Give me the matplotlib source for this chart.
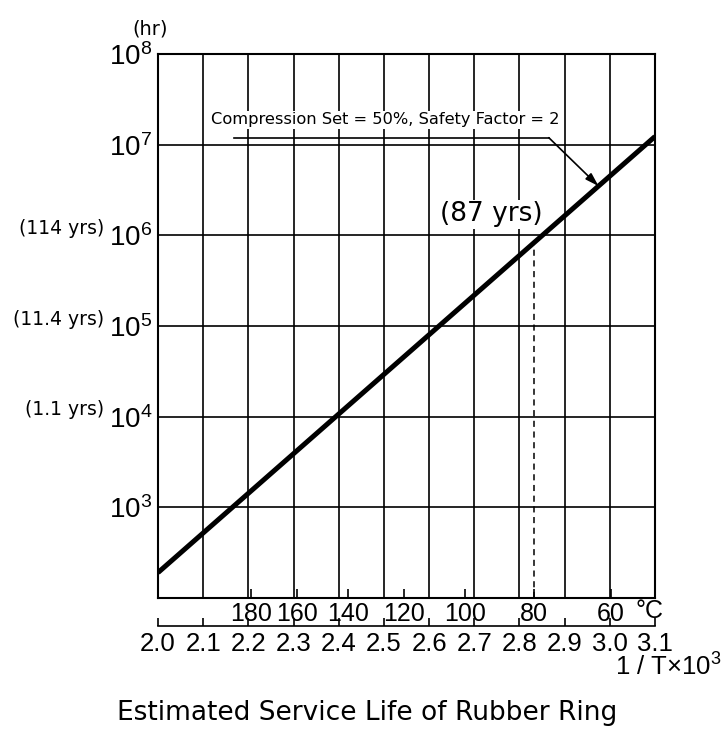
import numpy as np
import matplotlib
matplotlib.use("Agg")
import matplotlib.pyplot as plt
from matplotlib.ticker import FuncFormatter, NullLocator

# line: 1/T x 10^3 vs log10(hours)
inv_t = [2.0, 3.1]
log_hours = [2.28, 7.09]

inv_t_ticks = [2.0, 2.1, 2.2, 2.3, 2.4, 2.5, 2.6, 2.7, 2.8, 2.9, 3.0, 3.1]
temps_c = [180, 160, 140, 120, 100, 80, 60]
decades = [3, 4, 5, 6, 7, 8]
year_notes = {4: "(1.1 yrs)", 5: "(11.4 yrs)", 6: "(114 yrs)"}

mark_temp = 80
mark_label = "(87 yrs)"
note_text = "Compression Set = 50%, Safety Factor = 2"

plt.rcParams['font.family'] = ['Liberation Sans', 'DejaVu Sans']


def temp_to_inv(t):
    return 1000.0 / (np.asarray(t, dtype=float) + 273.15)


def hours_at(x):
    return 10 ** np.interp(x, inv_t, log_hours)


fig = plt.figure(figsize=(7.28, 7.33), dpi=100)
ax = fig.add_axes([158 / 728, 1 - 598 / 733, 497 / 728, 544 / 733])

ax.plot(inv_t, [10 ** v for v in log_hours], color='black', lw=3.6,
        solid_capstyle='butt', zorder=5)

ax.set_yscale('log')
ax.set_xlim(2.0, 3.1)
ax.set_ylim(1e2, 1e8)

# y axis: decades with grid
ax.set_yticks([10.0 ** d for d in decades])
ax.yaxis.set_minor_locator(NullLocator())
ax.yaxis.set_major_formatter(FuncFormatter(
    lambda v, _: r'$\mathdefault{10^{%d}}$' % round(np.log10(v))))
ax.tick_params(axis='y', length=0, pad=4, labelsize=20)
ax.grid(axis='y', which='major', color='black', lw=1.2)

# x grid from 1/T values (minor ticks, no marks)
ax.set_xticks(inv_t_ticks, minor=True)
ax.tick_params(axis='x', which='minor', length=0)
ax.grid(axis='x', which='minor', color='black', lw=1.2)

# primary x axis: temperature scale
ax.set_xticks(temp_to_inv(temps_c))
ax.set_xticklabels([str(t) for t in temps_c])
ax.tick_params(axis='x', which='major', direction='in', length=6.5, width=1.2,
               pad=3, labelsize=18)
ax.text(3.088, -0.024, "°C", transform=ax.get_xaxis_transform(),
        ha='center', va='center', fontsize=18)

# secondary x axis: 1/T x 10^3
sec = ax.secondary_xaxis(-28 / 544)
sec.set_xticks(inv_t_ticks)
sec.set_xticklabels([f"{v:.1f}" for v in inv_t_ticks])
sec.tick_params(direction='in', length=6, width=1.2, pad=4, labelsize=18.5)
sec.spines['bottom'].set_linewidth(1.2)

for s in ax.spines.values():
    s.set_linewidth(1.5)

# year notes on the left
for d, txt in year_notes.items():
    ax.annotate(txt, xy=(0, 10.0 ** d), xycoords=('axes fraction', 'data'),
                xytext=(-39, 5), textcoords='offset points', ha='right',
                va='center', fontsize=13.5, family='DejaVu Sans')

# 80 C marker
x_mark = float(temp_to_inv(mark_temp))
y_mark = hours_at(x_mark)
ax.vlines(x_mark, 1e2, y_mark, colors='black', linestyles=(0, (4, 3)), lw=1.1,
          zorder=4)
ax.text(2.737, 10 ** 6.23, mark_label, ha='center', va='center', fontsize=19,
        family='DejaVu Sans', zorder=6,
        bbox=dict(facecolor='white', edgecolor='none', pad=1))

# callout
ax.text(2.504, 10 ** 7.276, note_text, ha='center', va='center',
        fontsize=11.7, family='DejaVu Sans', zorder=6,
        bbox=dict(facecolor='white', edgecolor='none', pad=1))
ax.plot([2.168, 2.865], [10 ** 7.077, 10 ** 7.077], color='black', lw=1.2,
        zorder=6)
ax.annotate('', xy=(2.975, hours_at(2.975)), xytext=(2.865, 10 ** 7.077),
            arrowprops=dict(arrowstyle='-|>,head_length=0.8,head_width=0.25',
                            color='black', lw=1.2, shrinkA=0, shrinkB=0),
            zorder=6)

fig.text(150 / 728, 1 - 29 / 733, "(hr)", ha='center', va='center',
         fontsize=14, family='DejaVu Sans')
fig.text(668 / 728, 1 - 667 / 733, r'1 / T×$\mathdefault{10^3}$', ha='center',
         va='center', fontsize=18.5)
fig.text(367 / 728, 1 - 713 / 733, "Estimated Service Life of Rubber Ring",
         ha='center', va='center', fontsize=19, family='DejaVu Sans')

fig.savefig("out.png", dpi=100)
